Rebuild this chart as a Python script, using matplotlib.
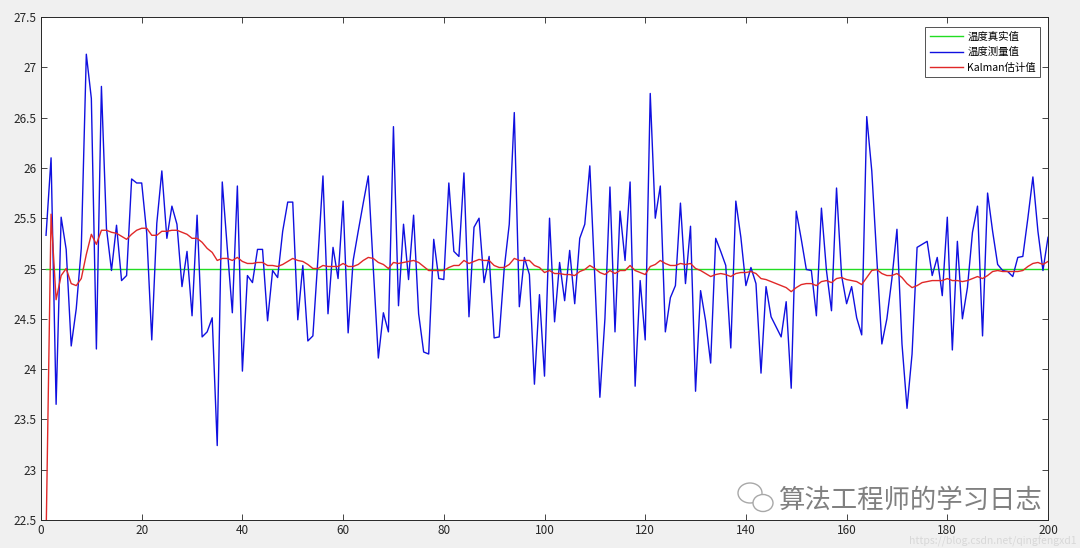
import numpy as np
import matplotlib
matplotlib.use("Agg")
import matplotlib.pyplot as plt
from matplotlib.patches import Ellipse

plt.rcParams['font.family'] = ['Noto Sans CJK SC', 'DejaVu Sans']

true_value = 25.0

measured = [
    25.33, 26.10, 23.65, 25.51, 25.19, 24.23, 24.60, 25.20, 27.13, 26.69,
    24.20, 26.81, 25.40, 24.98, 25.43, 24.88, 24.93, 25.89, 25.85, 25.85,
    25.35, 24.29, 25.45, 25.97, 25.30, 25.62, 25.44, 24.82, 25.17, 24.53,
    25.53, 24.32, 24.37, 24.51, 23.24, 25.86, 25.20, 24.56, 25.82, 23.98,
    24.93, 24.86, 25.19, 25.19, 24.48, 24.98, 24.91, 25.37, 25.66, 25.66,
    24.49, 25.03, 24.28, 24.33, 25.10, 25.92, 24.55, 25.21, 24.90, 25.67,
    24.36, 25.08, 25.37, 25.65, 25.92, 25.00, 24.11, 24.56, 24.37, 26.41,
    24.63, 25.44, 24.89, 25.53, 24.55, 24.17, 24.15, 25.29, 24.90, 24.89,
    25.85, 25.17, 25.12, 25.95, 24.52, 25.41, 25.50, 24.86, 25.12, 24.31,
    24.32, 25.00, 25.44, 26.55, 24.62, 25.11, 24.94, 23.85, 24.74, 23.93,
    25.50, 24.47, 25.06, 24.68, 25.18, 24.65, 25.30, 25.44, 26.02, 24.90,
    23.72, 24.50, 25.81, 24.37, 25.57, 25.08, 25.86, 23.83, 24.88, 24.29,
    26.74, 25.50, 25.82, 24.37, 24.71, 24.83, 25.65, 24.85, 25.42, 23.78,
    24.78, 24.48, 24.06, 25.30, 25.17, 25.03, 24.21, 25.67, 25.31, 24.83,
    25.01, 24.85, 23.96, 24.82, 24.52, 24.42, 24.32, 24.67, 23.81, 25.57,
    25.29, 24.99, 24.98, 24.53, 25.60, 24.98, 24.58, 25.80, 24.93, 24.65,
    24.82, 24.51, 24.34, 26.51, 25.97, 25.10, 24.25, 24.50, 24.90, 25.39,
    24.25, 23.61, 24.15, 25.21, 25.24, 25.27, 24.93, 25.11, 24.73, 25.51,
    24.19, 25.27, 24.50, 24.81, 25.36, 25.62, 24.33, 25.75, 25.37, 25.04,
    24.98, 24.97, 24.92, 25.11, 25.12, 25.50, 25.91, 25.37, 24.98, 25.31,
]

kalman = [
    22.30, 25.54, 24.69, 24.93, 25.00, 24.85, 24.83, 24.90, 25.14, 25.34,
    25.24, 25.38, 25.38, 25.36, 25.35, 25.32, 25.29, 25.34, 25.38, 25.40,
    25.40, 25.33, 25.33, 25.37, 25.37, 25.38, 25.38, 25.36, 25.34, 25.30,
    25.30, 25.26, 25.20, 25.16, 25.08, 25.10, 25.10, 25.08, 25.11, 25.07,
    25.05, 25.05, 25.06, 25.06, 25.03, 25.03, 25.02, 25.04, 25.07, 25.10,
    25.08, 25.07, 25.04, 25.00, 25.00, 25.03, 25.02, 25.02, 25.02, 25.05,
    25.02, 25.02, 25.04, 25.08, 25.11, 25.10, 25.06, 25.04, 25.00, 25.06,
    25.05, 25.06, 25.07, 25.08, 25.06, 25.02, 24.98, 24.98, 24.98, 24.98,
    25.01, 25.03, 25.03, 25.08, 25.05, 25.07, 25.09, 25.08, 25.08, 25.03,
    25.01, 25.01, 25.04, 25.10, 25.08, 25.08, 25.08, 25.03, 25.01, 24.96,
    24.98, 24.95, 24.95, 24.94, 24.94, 24.93, 24.97, 24.99, 25.03, 25.00,
    24.96, 24.94, 24.98, 24.95, 24.98, 24.98, 25.03, 24.98, 24.96, 24.94,
    25.02, 25.04, 25.08, 25.05, 25.03, 25.03, 25.05, 25.04, 25.05, 25.00,
    24.98, 24.95, 24.92, 24.94, 24.95, 24.94, 24.92, 24.95, 24.96, 24.96,
    24.97, 24.95, 24.90, 24.89, 24.87, 24.85, 24.83, 24.81, 24.77, 24.81,
    24.84, 24.85, 24.85, 24.83, 24.87, 24.88, 24.86, 24.90, 24.91, 24.89,
    24.88, 24.87, 24.84, 24.91, 24.98, 24.99, 24.95, 24.93, 24.93, 24.95,
    24.91, 24.85, 24.81, 24.83, 24.86, 24.87, 24.88, 24.88, 24.88, 24.90,
    24.88, 24.88, 24.87, 24.88, 24.90, 24.92, 24.90, 24.93, 24.97, 24.98,
    24.97, 24.97, 24.97, 24.97, 24.98, 25.02, 25.05, 25.06, 25.04, 25.07,
]

labels = ['温度真实值', '温度测量值', 'Kalman估计值']
x_ticks = list(range(0, 201, 20))
y_ticks = [22.5, 23, 23.5, 24, 24.5, 25, 25.5, 26, 26.5, 27, 27.5]
y_tick_labels = ['22.5', '23', '23.5', '24', '24.5', '25', '25.5', '26', '26.5', '27', '27.5']

n = np.arange(1, len(measured) + 1)
truth = np.full(len(measured), true_value)

fig = plt.figure(figsize=(10.8, 5.48), dpi=100, facecolor='#f0f0f0')
ax = fig.add_axes([41/1080, 1 - 520/548, (1048 - 41)/1080, (520 - 17)/548])
ax.set_facecolor('white')

ax.plot(n, truth, color='#22dd22', lw=1.0, label=labels[0])
ax.plot(n, measured, color='#1010e0', lw=1.0, label=labels[1])
ax.plot(n, kalman, color='#e02828', lw=1.0, label=labels[2])

ax.set_xlim(0, 200)
ax.set_ylim(22.5, 27.5)
ax.set_xticks(x_ticks)
ax.set_yticks(y_ticks)
ax.set_yticklabels(y_tick_labels)
ax.tick_params(direction='in', length=4, width=0.6, top=True, right=True,
               labelsize=8.5, colors='#262626', pad=3)
for s in ax.spines.values():
    s.set_linewidth(0.7)
    s.set_color('#262626')

leg = ax.legend(loc='upper right', bbox_to_anchor=(0.9925, 0.98), fontsize=7.5,
                frameon=True, fancybox=False, edgecolor='#262626',
                handlelength=3.2, handletextpad=0.4, borderpad=0.45,
                labelspacing=0.5, borderaxespad=0)
leg.get_frame().set_linewidth(0.7)

# watermark (WeChat-style icon + account name)
icon1 = Ellipse((750/1080, 1 - 493/548), 24/1080, 20/548, transform=fig.transFigure,
                fill=False, edgecolor='#a8a8a8', lw=1.0)
icon2 = Ellipse((763/1080, 1 - 503/548), 20/1080, 17/548, transform=fig.transFigure,
                facecolor='white', edgecolor='#a8a8a8', lw=1.0)
fig.add_artist(icon1)
fig.add_artist(icon2)
fig.text(778/1080, 1 - 500/548, '算法工程师的学习日志', fontsize=19,
         color='#808080', fontweight='light', va='center', ha='left')
fig.text(1076/1080, 1 - 541/548, 'https://blog.csdn.net/qingfengxd1', fontsize=7.5,
         color='#d8d8d8', va='center', ha='right', zorder=0)

fig.savefig('out.png', dpi=100, facecolor=fig.get_facecolor())
